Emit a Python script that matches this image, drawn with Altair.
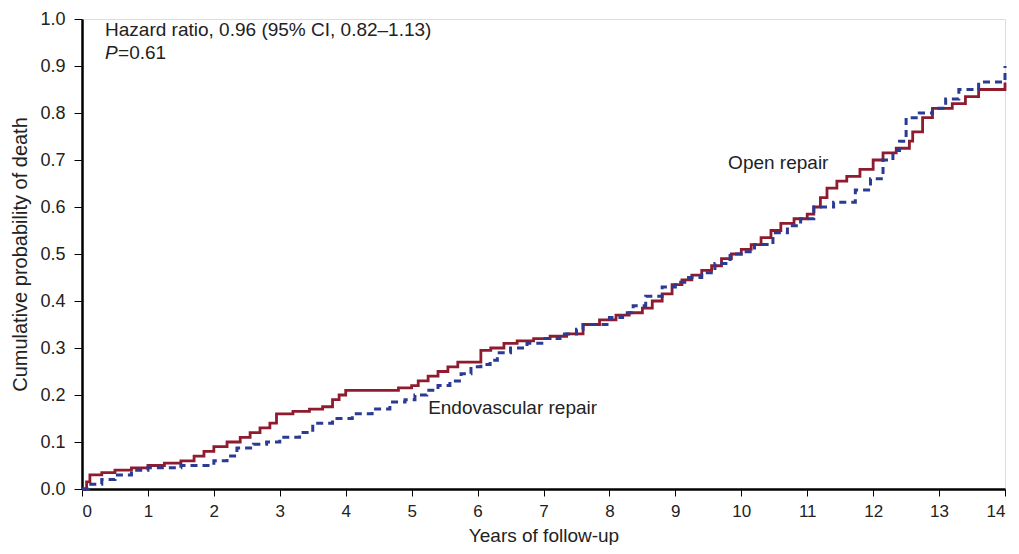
import altair as alt
import pandas as pd

open_x = [0, 0.07, 0.12, 0.3, 0.5, 0.75, 1.0, 1.25, 1.5, 1.7, 1.85, 2.0, 2.2, 2.4, 2.55,
          2.7, 2.85, 2.95, 3.2, 3.45, 3.65, 3.8, 3.9, 4.0, 4.2, 4.8, 5.0, 5.1, 5.25, 5.4,
          5.55, 5.7, 6.05, 6.2, 6.4, 6.6, 6.85, 7.1, 7.35, 7.6, 7.85, 8.1, 8.3, 8.5, 8.65,
          8.8, 8.95, 9.1, 9.25, 9.4, 9.55, 9.7, 9.85, 10.0, 10.15, 10.3, 10.45, 10.6, 10.8,
          11.0, 11.1, 11.2, 11.3, 11.45, 11.6, 11.8, 12.0, 12.15, 12.35, 12.55, 12.6, 12.75,
          12.9, 13.2, 13.4, 13.6, 14.0]
open_y = [0, 0.015, 0.03, 0.035, 0.04, 0.045, 0.05, 0.055, 0.06, 0.07, 0.08, 0.09, 0.10, 0.11, 0.12,
          0.13, 0.14, 0.16, 0.165, 0.17, 0.175, 0.19, 0.20, 0.21, 0.21, 0.215, 0.22, 0.23, 0.24, 0.25,
          0.26, 0.27, 0.295, 0.30, 0.31, 0.315, 0.32, 0.325, 0.33, 0.35, 0.36, 0.37, 0.375, 0.385, 0.40,
          0.415, 0.435, 0.445, 0.455, 0.465, 0.475, 0.49, 0.50, 0.51, 0.52, 0.535, 0.55, 0.565, 0.575,
          0.585, 0.60, 0.62, 0.64, 0.655, 0.665, 0.68, 0.70, 0.715, 0.725, 0.74, 0.76, 0.79,
          0.81, 0.82, 0.835, 0.85, 0.865]

endo_x = [0, 0.1, 0.3, 0.5, 0.75, 1.0, 1.5, 2.0, 2.2, 2.35, 2.6, 2.8, 3.0, 3.3, 3.5, 3.8,
          4.1, 4.4, 4.67, 4.9, 5.05, 5.23, 5.4, 5.58, 5.75, 5.9, 6.05, 6.19, 6.3, 6.5, 6.75,
          7.0, 7.25, 7.5, 7.6, 8.0, 8.2, 8.36, 8.55, 8.8, 9.0, 9.2, 9.4, 9.6, 9.83, 10.0,
          10.2, 10.48, 10.7, 10.9, 11.1, 11.4, 11.73, 11.96, 12.15, 12.3, 12.4, 12.5, 12.7,
          12.9, 13.1, 13.3, 13.6, 14.0]
endo_y = [0, 0.01, 0.02, 0.03, 0.04, 0.045, 0.05, 0.06, 0.07, 0.087, 0.095, 0.10, 0.11, 0.12, 0.14, 0.15,
          0.16, 0.17, 0.185, 0.19, 0.20, 0.21, 0.22, 0.23, 0.245, 0.26, 0.265, 0.274, 0.29, 0.30, 0.31,
          0.32, 0.33, 0.34, 0.35, 0.365, 0.375, 0.39, 0.41, 0.43, 0.44, 0.45, 0.46, 0.48, 0.50, 0.505,
          0.52, 0.545, 0.56, 0.575, 0.60, 0.61, 0.636, 0.66, 0.70, 0.72, 0.74, 0.79, 0.80,
          0.81, 0.83, 0.85, 0.866, 0.90]

series_names = ["Open repair", "Endovascular repair"]

rows = []
for x, y in zip(open_x, open_y):
    rows.append({"t": x, "p": y, "g": series_names[0]})
for x, y in zip(endo_x, endo_y):
    rows.append({"t": x, "p": y, "g": series_names[1]})
df = pd.DataFrame(rows)

FONT = "Liberation Sans"
TXT = "#222222"

xs = alt.Scale(domain=[0, 14], nice=False)
ys = alt.Scale(domain=[0, 1], nice=False)

x_axis = alt.Axis(values=list(range(15)), format="d", title="Years of follow-up", grid=False,
                  domainColor="black", domainWidth=2.5, tickColor="black", tickWidth=1,
                  tickSize=7, labelFontSize=17, titleFontSize=19, labelFont=FONT,
                  titleFont=FONT, titleFontWeight="normal", labelColor=TXT,
                  titleColor=TXT, labelPadding=7, titlePadding=7)
y_axis = alt.Axis(values=[i / 10 for i in range(11)], format=".1f",
                  title="Cumulative probability of death", grid=False,
                  domainColor="black", domainWidth=2.5, tickColor="black", tickWidth=1,
                  tickSize=8, labelFontSize=18, titleFontSize=20, labelFont=FONT,
                  titleFont=FONT, titleFontWeight="normal", labelColor=TXT,
                  titleColor=TXT, labelPadding=9, titlePadding=9)

X = alt.X("t:Q", scale=xs, axis=x_axis)
Y = alt.Y("p:Q", scale=ys, axis=y_axis)

open_line = alt.Chart(df[df.g == series_names[0]]).mark_line(
    interpolate="step-after", color="#8e1b2e", strokeWidth=2.8
).encode(x=X, y=Y)

endo_line = alt.Chart(df[df.g == series_names[1]]).mark_line(
    interpolate="step-after", color="#2b3a93", strokeWidth=3, strokeDash=[7, 5]
).encode(x=X, y=Y)

labels = pd.DataFrame({
    "t": [0.35, 9.8, 5.25],
    "p": [0.977, 0.694, 0.172],
    "txt": ["Hazard ratio, 0.96 (95% CI, 0.82\u20131.13)", "Open repair", "Endovascular repair"],
})
text = alt.Chart(labels).mark_text(align="left", baseline="middle", fontSize=19,
                                   font=FONT, color=TXT).encode(x=X, y=Y, text="txt:N")

pdf = pd.DataFrame({"t": [0.35], "p": [0.928], "a": ["P"], "b": ["=0.61"]})
ptext = alt.Chart(pdf).mark_text(align="left", baseline="middle", fontSize=19, font=FONT,
                                 fontStyle="italic", color=TXT).encode(x=X, y=Y, text="a:N")
ptext2 = alt.Chart(pdf).mark_text(align="left", baseline="middle", fontSize=19, font=FONT,
                                  dx=13, color=TXT).encode(x=X, y=Y, text="b:N")

chart = alt.layer(open_line, endo_line, text, ptext, ptext2).properties(
    width=923, height=470,
    autosize=alt.AutoSizeParams(type="none"),
    padding={"left": 74, "top": 11, "right": 4, "bottom": 56},
).configure_view(stroke=None).configure(background="white")

chart.save("out.html", embed_options={"renderer": "svg", "actions": False})
